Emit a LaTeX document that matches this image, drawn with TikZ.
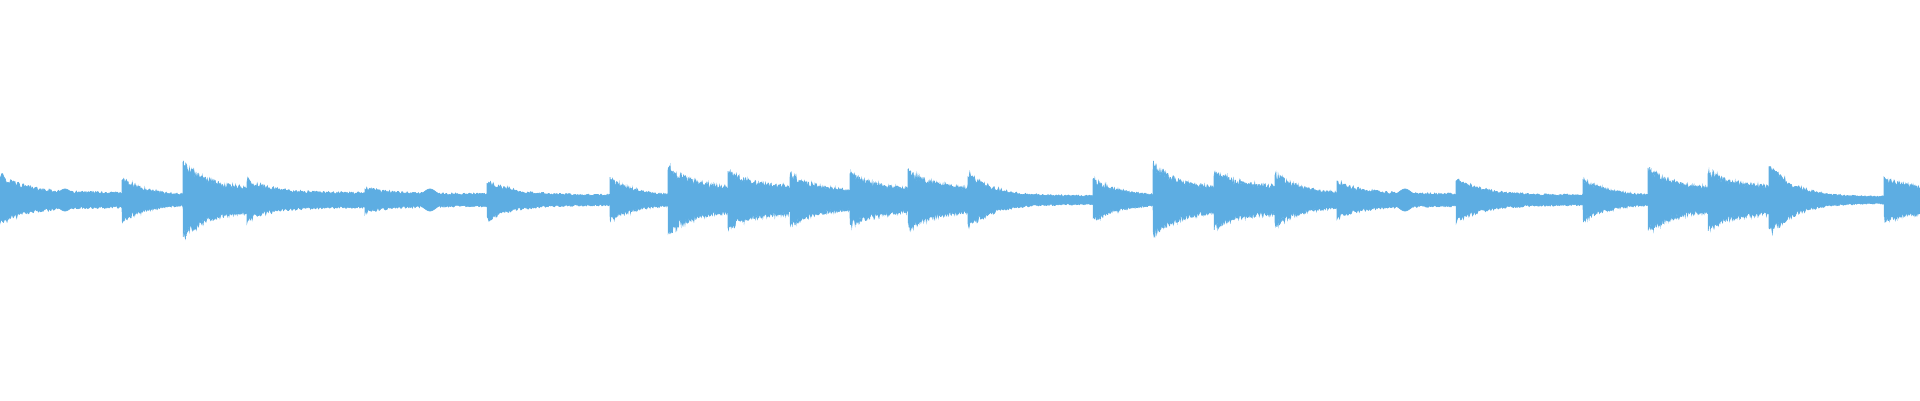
\documentclass[tikz,border=0pt]{standalone}
\usepackage{tikz}
\definecolor{wave}{RGB}{93,173,226}

\begin{document}
\begin{tikzpicture}[remember picture]
    \tikzstyle{burst} = [
      fill=wave,
      draw=wave,
      line width=0.2pt,
    ]

    \newcommand{\midline}[0]{2}
    % one note: start, length, peak, sustain (all in cm)
    \newcommand{\wavenote}[4]{%
      \fill[burst] plot[domain=0:#2,samples=140]
        ({#1+\x},{\midline+(#4+(#3-#4)*exp(-\x/0.25))*(0.8+0.35*rnd)})
        -- plot[domain=#2:0,samples=140]
        ({#1+\x},{\midline-(#4+(#3-#4)*exp(-\x/0.25))*(0.8+0.35*rnd)}) -- cycle;}

    \pgfmathsetseed{7}
    \useasboundingbox (0,0) rectangle (19.2,4);

    \foreach \s/\l/\p/\q in {
      0/1.22/0.25/0.07, 1.22/0.61/0.2/0.04, 1.83/0.64/0.36/0.1,
      2.47/1.18/0.2/0.07, 3.65/1.22/0.12/0.06, 4.87/1.23/0.2/0.05,
      6.10/0.58/0.2/0.04, 6.68/0.60/0.32/0.1, 7.28/0.62/0.27/0.12,
      7.90/0.60/0.25/0.08, 8.50/0.58/0.25/0.1, 9.08/0.60/0.28/0.1,
      9.68/1.25/0.27/0.04, 10.93/0.60/0.2/0.04, 11.53/0.61/0.35/0.1,
      12.14/0.61/0.27/0.12, 12.75/0.62/0.25/0.06, 13.37/1.19/0.18/0.06,
      14.56/1.27/0.22/0.05, 15.83/0.65/0.2/0.04, 16.48/0.60/0.3/0.1,
      17.08/0.61/0.27/0.12, 17.69/1.15/0.35/0.03, 18.84/0.36/0.2/0.1}
      {\wavenote{\s}{\l}{\p}{\q}}

    % swells
    \foreach \c in {0.65, 4.30, 14.05, 19.0} {
      \fill[burst] plot[domain=-0.18:0.18,samples=30]
        ({\c+\x},{\midline+0.04+0.07*exp(-(\x/0.08)^2)})
        -- plot[domain=0.18:-0.18,samples=30]
        ({\c+\x},{\midline-0.04-0.07*exp(-(\x/0.08)^2)}) -- cycle;
    }
  \end{tikzpicture}
\end{document}
